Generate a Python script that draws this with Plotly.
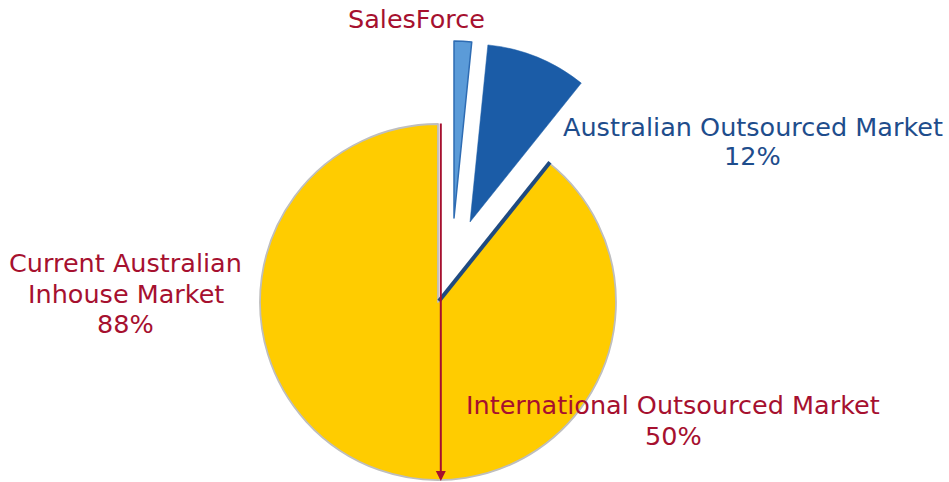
import math
import plotly.graph_objects as go

W, H = 949, 482

# ---- data ----
segment_names = ["SalesForce", "Australian Outsourced Market", "Current Australian Inhouse Market"]
segment_shares = [1.6, 9.15, 89.25]          # share of the circle
segment_fill = ["#5B9BD8", "#1B5CA7", "#FFCC00"]
segment_edge = ["#2E6CB3", "#1B5CA7", "#BEBEBE"]
segment_edge_w = [1.5, 0.5, 1.8]

label_lines = [
    ["SalesForce"],
    ["Australian Outsourced Market", "12%"],
    ["Current Australian", "Inhouse Market", "88%"],
    ["International Outsourced Market", "50%"],
]
label_colors = ["#A6102F", "#1E4D8C", "#A6102F", "#A6102F"]

# ---- layout geometry (pixels) ----
PIE_CX, PIE_CY, PIE_R = 438, 302, 178
explode = [(16, -84, 177), (32, -80, 178), (0, 0, 178)]   # offset x, offset y, radius
label_pos = [  # centre x, cap-middle y of first line, line step
    (416.7, 19.0, 0),
    (752.5, 126.7, 29.5),
    (126.0, 263.4, 30.5),
    (673.0, 405.0, 30.7),
]

TRANSPARENT = "rgba(0,0,0,0)"


def px(x):
    return x / W


def py(y):
    return 1 - y / H


fig = go.Figure()
for i, (dx, dy, r) in enumerate(explode):
    cx, cy = PIE_CX + dx, PIE_CY + dy
    fig.add_trace(go.Pie(
        labels=segment_names,
        values=segment_shares,
        sort=False,
        direction="clockwise",
        rotation=0,
        textinfo="none",
        hoverinfo="skip",
        showlegend=False,
        marker=dict(
            colors=[segment_fill[j] if j == i else TRANSPARENT for j in range(3)],
            line=dict(
                color=[segment_edge[j] if j == i else TRANSPARENT for j in range(3)],
                width=[segment_edge_w[j] if j == i else 0 for j in range(3)],
            ),
        ),
        domain=dict(x=[px(cx - r), px(cx + r)], y=[py(cy + r), py(cy - r)]),
    ))

# dark edge along the cut side of the in-house slice
cut_angle = math.radians(360 * (segment_shares[0] + segment_shares[1]) / 100)
edge_r = PIE_R + 1
fig.add_shape(
    type="line", xref="paper", yref="paper",
    x0=px(PIE_CX + 1), y0=py(PIE_CY - 1),
    x1=px(PIE_CX + edge_r * math.sin(cut_angle)), y1=py(PIE_CY - edge_r * math.cos(cut_angle)),
    line=dict(color="#1F4A80", width=4),
)

# red half-way arrow (50 % line)
fig.add_annotation(
    x=px(PIE_CX + 2.8), y=py(PIE_CY + PIE_R + 1), xref="paper", yref="paper",
    ax=0, ay=-(PIE_R + 1 + PIE_R + 2), axref="pixel", ayref="pixel",
    text="", showarrow=True, arrowhead=2, arrowsize=1, arrowwidth=2,
    arrowcolor="#A6102F", standoff=0,
)

for lines, color, (lx, ly, step) in zip(label_lines, label_colors, label_pos):
    for k, t in enumerate(lines):
        fig.add_annotation(
            x=px(lx), y=py(ly + k * step), xref="paper", yref="paper",
            text=t, showarrow=False, xanchor="center", yanchor="middle",
            font=dict(family="DejaVu Sans", size=25.5, color=color),
        )

fig.update_layout(
    width=W, height=H,
    margin=dict(l=0, r=0, t=0, b=0),
    paper_bgcolor="white", plot_bgcolor="white",
)

fig.write_html(
    "out.html",
    config={"displayModeBar": False},
    post_script="document.body.style.margin='0';",
)
